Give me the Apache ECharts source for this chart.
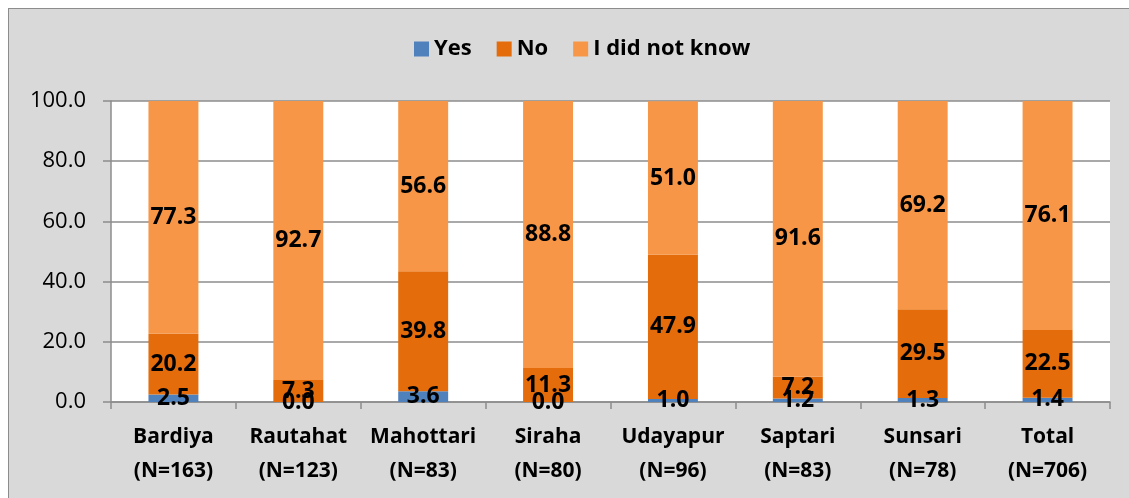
<!DOCTYPE html>
<html>
<head>
<meta charset="utf-8">
<script src="https://cdn.jsdelivr.net/npm/echarts@6/dist/echarts.min.js"></script>
<style>
  html, body { margin: 0; padding: 0; background: #fff; overflow: hidden; }
  #frame { position: absolute; left: 8px; top: 8px; width: 1130px; height: 500px;
           background: #d9d9d9; border: 1px solid #8c8c8c; box-sizing: border-box; }
  #main { position: absolute; left: 0; top: 0; width: 1129px; height: 498px; }
</style>
</head>
<body>
<div id="frame"></div>
<div id="main"></div>
<script>
// categories (districts with sample size)
var categories = ["Bardiya\n(N=163)", "Rautahat\n(N=123)", "Mahottari\n(N=83)", "Siraha\n(N=80)",
                  "Udayapur\n(N=96)", "Saptari\n(N=83)", "Sunsari\n(N=78)", "Total\n(N=706)"];
// percentages
var yesValues = [2.5, 0.0, 3.6, 0.0, 1.0, 1.2, 1.3, 1.4];
var noValues = [20.2, 7.3, 39.8, 11.3, 47.9, 7.2, 29.5, 22.5];
var dontKnowValues = [77.3, 92.7, 56.6, 88.8, 51.0, 91.6, 69.2, 76.1];

var fontFam = "'Open Sans', Lato, sans-serif";

function barSeries(name, data, color) {
  return {
    name: name,
    type: "bar",
    stack: "total",
    data: data,
    barWidth: "40%",
    itemStyle: { color: color },
    label: {
      show: true,
      position: "inside",
      color: "#000",
      fontWeight: "bold",
      fontSize: 23,
      fontFamily: fontFam,
      formatter: function (p) { return p.value.toFixed(1); }
    }
  };
}

var myChart = echarts.init(document.getElementById("main"), null, { renderer: "canvas" });

var option = {
  backgroundColor: "transparent",
  animation: false,
  legend: {
    top: 33,
    left: 409,
    itemWidth: 15,
    itemHeight: 15,
    itemGap: 25,
    icon: "rect",
    textStyle: { color: "#000", fontWeight: "bold", fontSize: 22, fontFamily: fontFam },
    data: ["Yes", "No", "I did not know"]
  },
  grid: {
    left: 111,
    right: 19,
    top: 101,
    bottom: 96,
    show: true,
    backgroundColor: "#fff",
    borderWidth: 0
  },
  xAxis: {
    type: "category",
    data: categories,
    axisLine: { lineStyle: { color: "#8c8c8c", width: 1.5 } },
    axisTick: { show: true, length: 7, interval: 0, lineStyle: { color: "#8c8c8c", width: 1.5 } },
    axisLabel: {
      interval: 0,
      color: "#000",
      fontWeight: "bold",
      fontSize: 21,
      fontFamily: fontFam,
      lineHeight: 34,
      margin: 18
    }
  },
  yAxis: {
    type: "value",
    min: 0,
    max: 100,
    interval: 20,
    axisLine: { show: true, lineStyle: { color: "#8c8c8c", width: 1.5 } },
    axisTick: { show: true, length: 8, lineStyle: { color: "#8c8c8c", width: 1.5 } },
    splitLine: { lineStyle: { color: "#8c8c8c", width: 1.5 } },
    axisLabel: {
      color: "#000",
      fontSize: 22,
      fontFamily: fontFam,
      margin: 25,
      formatter: function (v) { return v.toFixed(1); }
    }
  },
  series: [
    barSeries("Yes", yesValues, "#4f81bd"),
    barSeries("No", noValues, "#e46c0a"),
    barSeries("I did not know", dontKnowValues, "#f79646")
  ]
};

myChart.setOption(option);
</script>
</body>
</html>
